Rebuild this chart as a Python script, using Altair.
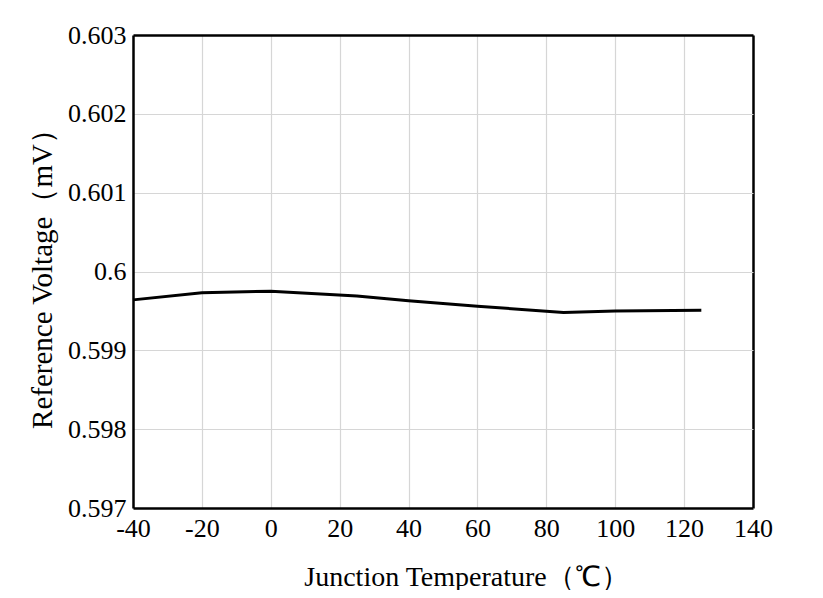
import altair as alt
import pandas as pd

temps = [-40, -20, 0, 25, 40, 60, 85, 100, 125]
volts = [0.59964, 0.59973, 0.59975, 0.59969, 0.59963, 0.59956, 0.59948, 0.59950, 0.59951]
x_ticks = [-40, -20, 0, 20, 40, 60, 80, 100, 120, 140]
y_ticks = [0.597, 0.598, 0.599, 0.600, 0.601, 0.602, 0.603]

df = pd.DataFrame({"t": temps, "v": volts})
font = "Liberation Serif"
grid_gray = "#d6d6d6"

chart = alt.Chart(df).mark_line(color="black", strokeWidth=3).encode(
    x=alt.X("t:Q", scale=alt.Scale(domain=[-40, 140], nice=False),
            axis=alt.Axis(values=x_ticks, title="Junction Temperature（℃）",
                          labelExpr="datum.value < 0 ? '-' + abs(datum.value) : '' + datum.value",
                          labelFont=font, labelFontSize=26, labelColor="black",
                          titleFont=font, titleFontSize=28, titleFontWeight="normal",
                          titleColor="black", titlePadding=22, labelPadding=7,
                          titleX=333,
                          ticks=False, domainColor="black", domainWidth=2.5,
                          gridColor={"condition": {"test": "datum.value == 140", "value": "black"}, "value": grid_gray},
                          gridWidth={"condition": {"test": "datum.value == 140", "value": 2.5}, "value": 1.2},
                          labelFlush=False)),
    y=alt.Y("v:Q", scale=alt.Scale(domain=[0.597, 0.603], nice=False, zero=False),
            axis=alt.Axis(values=y_ticks, format=".3~f", title="Reference Voltage（mV）",
                          labelFont=font, labelFontSize=26, labelColor="black",
                          titleFont=font, titleFontSize=29, titleFontWeight="normal",
                          titleColor="black", titlePadding=10, labelPadding=7,
                          ticks=False, domainColor="black", domainWidth=2.5,
                          gridColor={"condition": {"test": "datum.value >= 0.6029", "value": "black"}, "value": grid_gray},
                          gridWidth={"condition": {"test": "datum.value >= 0.6029", "value": 2.5}, "value": 1.2},
                          labelFlush=False)),
).properties(
    width=620, height=473,
    autosize=alt.AutoSizeParams(type="none"),
    padding={"left": 125, "top": 27, "right": 62, "bottom": 82},
).configure_view(stroke="black", strokeWidth=2.5).configure(background="white")

chart.save("out.html", embed_options={"renderer": "svg", "actions": False})
